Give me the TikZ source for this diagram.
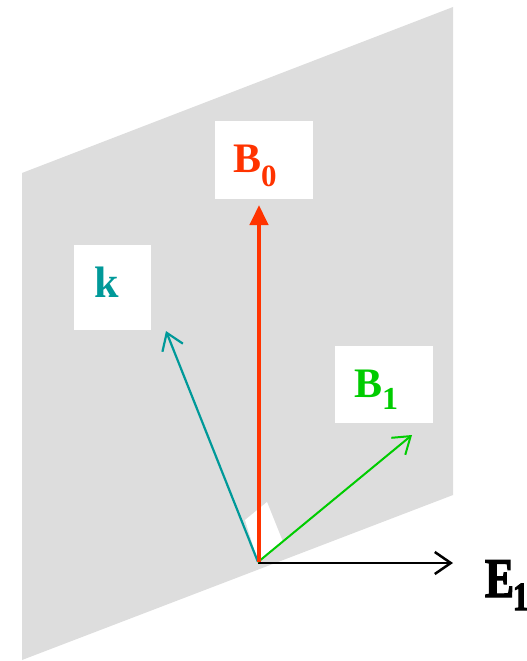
\documentclass[tikz,border=0pt]{standalone}
\usepackage{fontspec}
\setmainfont{Liberation Serif}
\newfontface\efont[FakeStretch=0.77,FakeBold=2.5]{Liberation Serif Bold}
\usetikzlibrary{arrows.meta}
\definecolor{planegray}{HTML}{DDDDDD}
\definecolor{bred}{HTML}{FF3300}
\definecolor{bgreen}{HTML}{00CC00}
\definecolor{kteal}{HTML}{009999}
\begin{document}
\begin{tikzpicture}[x=1pt,y=-1pt,
  labelbox/.style={fill=white,draw=none,inner sep=0pt},
  labeltext/.style={anchor=base west,inner sep=0pt,font=\bfseries},
  barbarrow/.style={-{Straight Barb[length=16pt,width=22pt]}},
]
\useasboundingbox (0,0) rectangle (527,661);
% plane
\fill[planegray] (22,173) -- (453,7) -- (453,495) -- (22,660) -- cycle;
% label boxes
\node[labelbox,minimum width=98pt,minimum height=78pt] (b0box) at (264,160) {};
\node[labelbox,minimum width=77pt,minimum height=85pt] (kbox) at (112.5,287.5) {};
\node[labelbox,minimum width=98pt,minimum height=77pt] (b1box) at (384,384.5) {};
% origin and tips
\coordinate (o) at (258,562);
\coordinate (ktip) at (166,331);
\coordinate (b1tip) at (412,435);
\coordinate (e1start) at (258,563);
\coordinate (e1tip) at (453,563);
\coordinate (b0tip) at (259,205);
\coordinate (b0start) at (259,562);
% right-angle marker
\fill[white] (o) -- (245,520) -- (267,502) -- (283,542) -- cycle;
% arrows
\draw[black,line width=2.5pt,barbarrow] (e1start) -- (e1tip);
\draw[kteal,line width=2.2pt,barbarrow] (o) -- (ktip);
\draw[bgreen,line width=2pt,barbarrow] (o) -- (b1tip);
\draw[bred,line width=4.2pt,-{Triangle[length=20pt,width=18pt]}] (b0start) -- (b0tip);
% labels
\node[labeltext,text=bred] (b0) at (233,172) {\fontsize{42}{42}\selectfont B\raisebox{-14pt}{\fontsize{31}{31}\selectfont 0}};
\node[labeltext,text=kteal] (k) at (94,297) {\fontsize{44}{44}\selectfont k};
\node[labeltext,text=bgreen] (b1) at (354,397) {\fontsize{42}{42}\selectfont B\raisebox{-12pt}{\fontsize{32}{32}\selectfont 1}};
\node[labeltext,text=black] (e1) at (485,597) {\efont\fontsize{56}{56}\selectfont E\kern-1pt\raisebox{-13pt}{\fontsize{40}{40}\selectfont 1}};
\end{tikzpicture}
\end{document}
